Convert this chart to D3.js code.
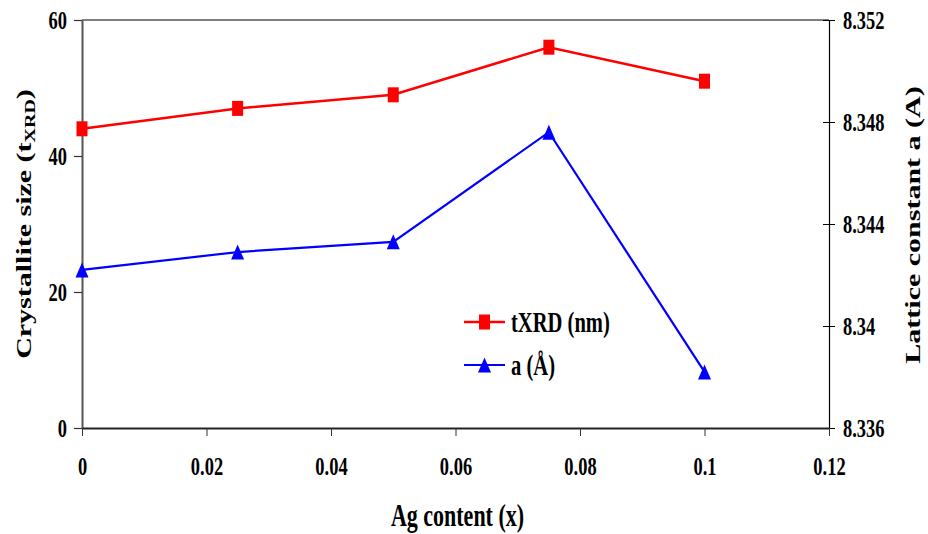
<!DOCTYPE html>
<html>
<head>
<meta charset="utf-8">
<script src="https://cdn.jsdelivr.net/npm/d3@7"></script>
<style>
  body { margin: 0; background: #fff; }
  text { font-family: "Liberation Serif", "Times New Roman", serif; font-weight: bold; fill: #000; }
</style>
</head>
<body>
<svg id="chart" width="928" height="534"></svg>
<script>
// data
var agContent = [0, 0.025, 0.05, 0.075, 0.1];
var crystalliteSize = [44, 47, 49, 56, 51];        // tXRD (nm), left axis
var latticeConstant = [8.3422, 8.3429, 8.3433, 8.3476, 8.3382]; // a (Å), right axis
var xTicks = [0, 0.02, 0.04, 0.06, 0.08, 0.1, 0.12];
var leftTicks = [0, 20, 40, 60];
var rightTicks = [8.336, 8.34, 8.344, 8.348, 8.352];

var SX = 0.71; // text in the reference is squeezed horizontally
var svg = d3.select("#chart");
var plotLeft = 82, plotRight = 829, plotTop = 20, plotBottom = 428;

var x = d3.scaleLinear().domain([0, 0.12]).range([plotLeft, plotRight]);
var yL = d3.scaleLinear().domain([0, 60]).range([plotBottom, plotTop]);
var yR = d3.scaleLinear().domain([8.336, 8.352]).range([plotBottom, plotTop]);

// top frame line
svg.append("line")
  .attr("x1", plotLeft).attr("x2", plotRight).attr("y1", plotTop).attr("y2", plotTop)
  .attr("stroke", "#555").attr("stroke-width", 1.5);

// left axis
var gL = svg.append("g")
  .attr("transform", "translate(" + plotLeft + ",0)")
  .call(d3.axisLeft(yL).tickValues(leftTicks).tickFormat(d3.format("d")).tickSize(8).tickSizeOuter(0));
gL.select(".domain").attr("stroke", "#555").attr("stroke-width", 2);
gL.selectAll(".tick line").attr("stroke", "#333").attr("stroke-width", 1.2);
gL.selectAll(".tick text")
  .attr("font-size", 26).attr("font-family", null)
  .attr("x", -15 / SX).attr("dy", "0.34em")
  .attr("transform", "scale(" + SX + ",1)");

// right axis, cross ticks
var gR = svg.append("g")
  .attr("transform", "translate(" + plotRight + ",0)")
  .call(d3.axisRight(yR).tickValues(rightTicks).tickFormat(function(d) { return String(+d.toFixed(3)); }).tickSize(6).tickSizeOuter(0));
gR.select(".domain").attr("stroke", "#000").attr("stroke-width", 1.2);
gR.selectAll(".tick line").attr("x1", -6).attr("stroke", "#000").attr("stroke-width", 1);
gR.selectAll(".tick text")
  .attr("font-size", 26).attr("font-family", null)
  .attr("x", 14 / SX).attr("dy", "0.34em")
  .attr("transform", "scale(" + SX + ",1)");

// bottom axis
var gB = svg.append("g")
  .attr("transform", "translate(0," + plotBottom + ")")
  .call(d3.axisBottom(x).tickValues(xTicks).tickFormat(function(d) { return String(+d.toFixed(2)); }).tickSize(8).tickSizeOuter(0));
gB.select(".domain").attr("stroke", "#222").attr("stroke-width", 2);
gB.selectAll(".tick line").attr("stroke", "#333").attr("stroke-width", 1);
gB.selectAll(".tick text")
  .attr("font-size", 26).attr("font-family", null)
  .attr("y", 47).attr("dy", 0)
  .attr("transform", "scale(" + SX + ",1)");

// axis titles
svg.append("text")
  .attr("transform", "translate(" + ((plotLeft + plotRight) / 2 + 2) + ",526) scale(" + SX + ",1)")
  .attr("text-anchor", "middle")
  .attr("font-size", 31)
  .text("Ag content (x)");

var yTitle = svg.append("text")
  .attr("transform", "translate(31,224) scale(" + SX + ",1) rotate(-90)")
  .attr("text-anchor", "middle")
  .attr("font-size", 30);
yTitle.append("tspan").text("Crystallite size (t");
yTitle.append("tspan").attr("font-size", 20).attr("dy", 5).text("XRD");
yTitle.append("tspan").attr("dy", -5).text(")");

svg.append("text")
  .attr("transform", "translate(920,225) scale(" + SX + ",1) rotate(-90)")
  .attr("text-anchor", "middle")
  .attr("font-size", 30)
  .text("Lattice constant a (A)");

// series
var lineL = d3.line().x(function(d, i) { return x(agContent[i]); }).y(function(d) { return yL(d); });
var lineR = d3.line().x(function(d, i) { return x(agContent[i]); }).y(function(d) { return yR(d); });

svg.append("path").datum(crystalliteSize)
  .attr("d", lineL).attr("fill", "none").attr("stroke", "#ff0000").attr("stroke-width", 2.5);
svg.append("path").datum(latticeConstant)
  .attr("d", lineR).attr("fill", "none").attr("stroke", "#0000ff").attr("stroke-width", 2.2);

var sqW = 11, sqH = 15, triW = 13, triH = 15;
function triangle(cx, cy) {
  return "M" + cx + "," + (cy - triH / 2) + "L" + (cx + triW / 2) + "," + (cy + triH / 2) + "L" + (cx - triW / 2) + "," + (cy + triH / 2) + "Z";
}

svg.selectAll("rect.sq").data(crystalliteSize).enter().append("rect")
  .attr("class", "sq")
  .attr("x", function(d, i) { return x(agContent[i]) - sqW / 2; })
  .attr("y", function(d) { return yL(d) - sqH / 2; })
  .attr("width", sqW).attr("height", sqH)
  .attr("fill", "#ff0000");

svg.selectAll("path.tri").data(latticeConstant).enter().append("path")
  .attr("class", "tri")
  .attr("d", function(d, i) { return triangle(x(agContent[i]), yR(d)); })
  .attr("fill", "#0000ff");

// legend
var legend = svg.append("g").attr("id", "legend");
var legendItems = [
  { label: "tXRD (nm)", color: "#ff0000", shape: "square", y: 322 },
  { label: "a (Å)", color: "#0000ff", shape: "triangle", y: 365 }
];
legendItems.forEach(function(it) {
  legend.append("line")
    .attr("x1", 464).attr("x2", 505).attr("y1", it.y).attr("y2", it.y)
    .attr("stroke", it.color).attr("stroke-width", it.shape == "square" ? 2.5 : 2.2);
  if (it.shape == "square") {
    legend.append("rect").attr("x", 484.5 - sqW / 2).attr("y", it.y - sqH / 2)
      .attr("width", sqW).attr("height", sqH).attr("fill", it.color);
  } else {
    legend.append("path").attr("d", triangle(484.5, it.y)).attr("fill", it.color);
  }
  legend.append("text")
    .attr("transform", "translate(511," + (it.y + 10) + ") scale(" + SX + ",1)")
    .attr("font-size", 29)
    .text(it.label);
});
</script>
</body>
</html>
